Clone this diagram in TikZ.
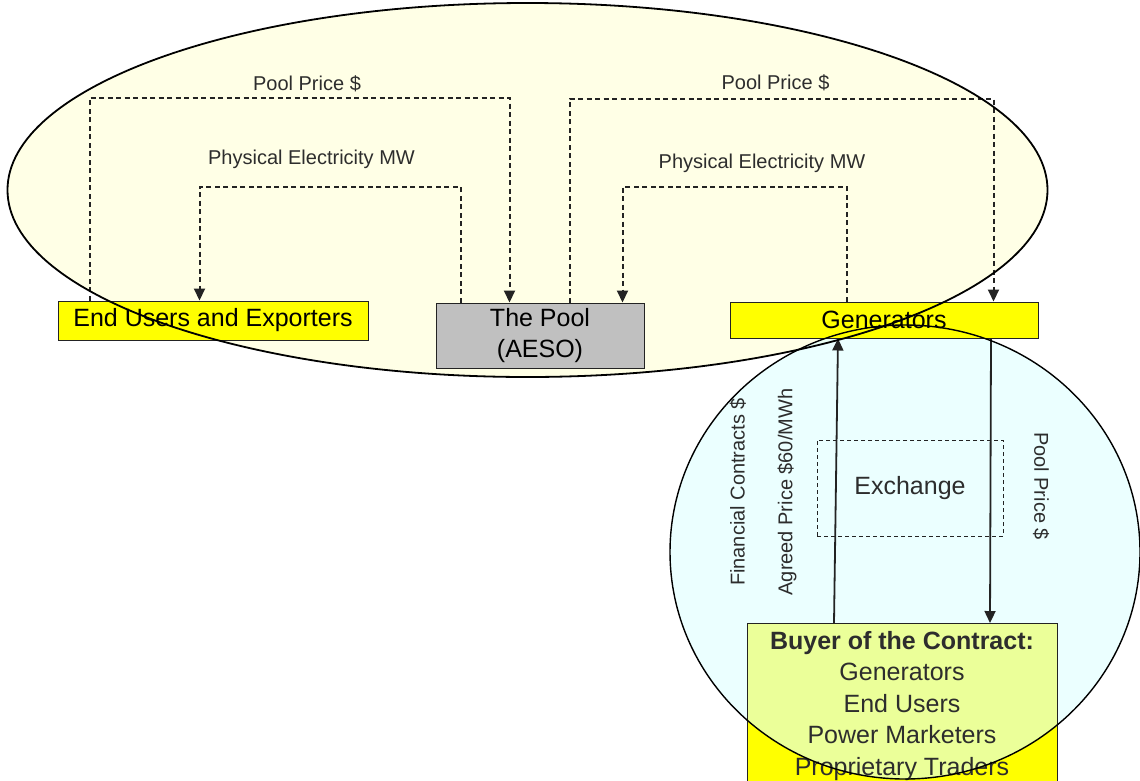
\documentclass[tikz,border=0pt]{standalone}
\usepackage{fontspec}
\setmainfont{Liberation Sans}
\usetikzlibrary{arrows.meta,calc,shapes.geometric}
\pgfdeclarelayer{background}
\pgfdeclarelayer{foreground}
\pgfsetlayers{background,main,foreground}
\definecolor{ellfill}{RGB}{255,255,230}
\definecolor{cirfill}{RGB}{222,255,255}
\definecolor{boxyel}{RGB}{255,255,0}
\definecolor{boxgrey}{RGB}{192,192,192}
\definecolor{lblgrey}{RGB}{45,45,45}
\definecolor{linegrey}{RGB}{35,35,35}
\tikzset{
  big/.style={font=\fontsize{25}{31.5}\selectfont},
  lbl/.style={font=\fontsize{20}{24}\selectfont, text=lblgrey, inner sep=0pt},
  ybox/.style={draw=linegrey, line width=1pt, fill=boxyel, inner sep=0pt, big},
  gbox/.style={draw=linegrey, line width=1pt, fill=boxgrey, inner sep=0pt, big, align=center},
  dashl/.style={draw=linegrey, line width=2pt, dash pattern=on 5pt off 3.5pt},
  dasharr/.style={dashl, -{Triangle[width=11pt,length=12pt]}},
  solidarr/.style={draw=linegrey, line width=1.8pt, -{Triangle[width=11pt,length=12pt]}},
  exbox/.style={draw=linegrey, line width=1pt, dash pattern=on 4pt off 3pt, inner sep=0pt, big, text=lblgrey}
}
\begin{document}
\begin{tikzpicture}[x=1pt,y=-1pt]
\useasboundingbox (0,0) rectangle (1140,780);

% boxes
\node[ybox, minimum width=310pt, minimum height=39pt] (eu) at (213,320.5) {End Users and Exporters};
\node[gbox, minimum width=208pt, minimum height=65pt] (pool) at (540,335.5) {The Pool\\(AESO)};
\node[ybox, minimum width=308pt, minimum height=36pt] (gen) at (884,320) {Generators};
\node[draw=linegrey, line width=1pt, big, minimum width=310pt, anchor=north, inner ysep=7.7pt, align=center, text=lblgrey] (buyer) at (902,623)
  {\textbf{Buyer of the Contract:}\\Generators\\End Users\\Power Marketers\\Proprietary Traders\\[4pt]};
\node[exbox, minimum width=186pt, minimum height=96pt] (ex) at (910,488) {Exchange};

% labels
\node[lbl] (lppl) at (307,84) {Pool Price \$};
\node[lbl] (lpel) at (311.5,159) {Physical Electricity MW};
\node[lbl] (lppr) at (775.5,83) {Pool Price \$};
\node[lbl] (lper) at (762,163) {Physical Electricity MW};
\node[lbl, rotate=90] (lfc) at (738,492) {Financial Contracts \$};
\node[lbl, rotate=90] (lap) at (787,492) {Agreed Price \$60/MWh};
\node[lbl, rotate=-90] (lpp) at (1041,486) {Pool Price \$};

% background fills
\begin{pgfonlayer}{background}
\fill[ellfill] (527.5,190) ellipse [x radius=520, y radius=187];
\fill[boxyel] (buyer.north west) rectangle (buyer.south east);
\fill[cirfill, fill opacity=0.6] (905,552) ellipse [x radius=235, y radius=227];
\end{pgfonlayer}

% dashed connectors
\draw[dasharr] ($(eu.north west)+(32,0)$) |- ($(pool.north west)+(74,-205)$) -- ($(pool.north west)+(74,0)$);
\draw[dasharr] ($(pool.north west)+(25,0)$) |- ($(eu.north west)+(142,-114)$) -- ($(eu.north west)+(142,0)$);
\draw[dasharr] ($(pool.north west)+(134,0)$) |- ($(gen.north west)+(264,-203)$) -- ($(gen.north west)+(264,0)$);
\draw[dasharr] ($(gen.north west)+(117,0)$) |- ($(pool.north west)+(187,-116)$) -- ($(pool.north west)+(187,0)$);

% solid connectors
\draw[solidarr] ($(buyer.north)+(-68,0)$) -- ($(gen.south)+(-46,0)$);
\draw[solidarr] ($(gen.south)+(107,0)$) -- ($(buyer.north)+(88,0)$);

% outlines on top
\begin{pgfonlayer}{foreground}
\draw[black, line width=1.4pt] (905,552) ellipse [x radius=235, y radius=227];
\draw[black, line width=1.8pt] (527.5,190) ellipse [x radius=520, y radius=187];
\end{pgfonlayer}
\end{tikzpicture}
\end{document}
